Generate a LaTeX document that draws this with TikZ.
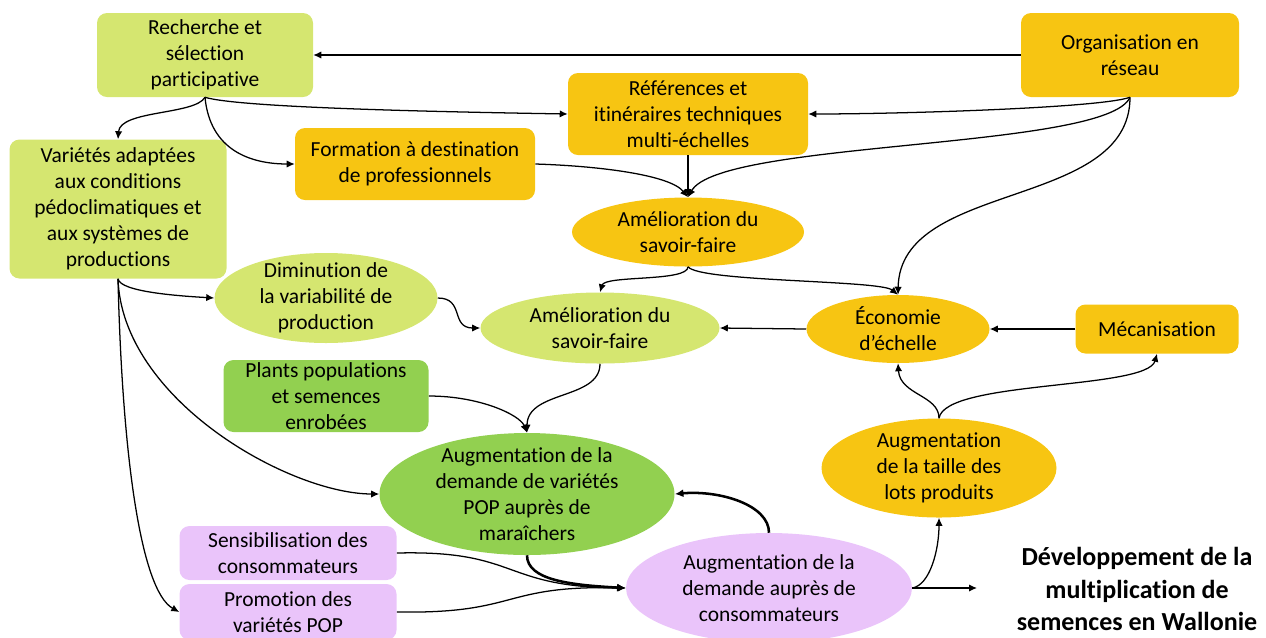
\documentclass[tikz,border=0pt]{standalone}
\usepackage{fontspec}
\setmainfont{Carlito}[Ligatures=NoCommon]
\usepackage{tikz}
\usetikzlibrary{shapes.geometric,arrows.meta}

\definecolor{vertclair}{RGB}{213,230,112}
\definecolor{vertfonce}{RGB}{146,208,80}
\definecolor{jaune}{RGB}{247,197,18}
\definecolor{mauve}{RGB}{234,196,250}
\newcommand{\txt}{\fontsize{16.1}{19.5}\selectfont}

\tikzset{
  boite/.style={rectangle, rounded corners=7.5pt, inner sep=0pt, align=center, font=\txt},
  bulle/.style={ellipse, inner sep=0pt},
  texte/.style={align=center, font=\txt, inner sep=0pt},
  fl/.style={-{Latex[length=6pt,width=5.5pt]}, line width=0.95pt},
  flg/.style={-{Latex[length=6.5pt,width=6pt]}, line width=1.9pt},
}

\begin{document}
\begin{tikzpicture}[x=0.75pt,y=0.75pt,yscale=-1,xscale=1]
        \useasboundingbox (0,0) rectangle (1266,637);

        % Boxes
        \node [boite, fill=vertclair, minimum width=162pt, minimum height=63pt] (rech) at (205,55) {Recherche et\\sélection\\participative};
        \node [boite, fill=jaune, minimum width=163.5pt, minimum height=63pt] (org) at (1130,55) {Organisation en\\réseau};
        \node [boite, fill=jaune, minimum width=180pt, minimum height=61.5pt] (ref) at (688,114) {Références et\\itinéraires techniques\\multi-échelles};
        \node [boite, fill=jaune, minimum width=180pt, minimum height=54pt] (form) at (415,164) {Formation à destination\\de professionnels};
        \node [boite, fill=vertclair, minimum width=162.75pt, minimum height=104.25pt] (var) at (118,209) {Variétés adaptées\\aux conditions\\pédoclimatiques et\\aux systèmes de\\productions};
        \node [boite, fill=jaune, minimum width=122.25pt, minimum height=36.75pt] (meca) at (1157,329) {Mécanisation};
        \node [boite, fill=vertfonce, minimum width=153.75pt, minimum height=54pt] (plants) at (326,396) {Plants populations\\et semences\\enrobées};
        \node [boite, fill=mauve, minimum width=162.75pt, minimum height=40.5pt] (sens) at (288,553) {Sensibilisation des\\consommateurs};
        \node [boite, fill=mauve, minimum width=162.75pt, minimum height=42pt] (promo) at (288,612) {Promotion des\\variétés POP};

        % Ellipses
        \node [bulle, fill=jaune, minimum width=174pt, minimum height=51.75pt] (amo) at (688,232) {};
        \node [texte] (amo-t) at (amo) {Amélioration du\\savoir-faire};
        \node [bulle, fill=vertclair, minimum width=167.25pt, minimum height=67.5pt] (dim) at (326,298) {};
        \node [texte] (dim-t) at (dim) {Diminution de\\la variabilité de\\production};
        \node [bulle, fill=vertclair, minimum width=179.25pt, minimum height=53.25pt] (amv) at (600,328) {};
        \node [texte] (amv-t) at (amv) {Amélioration du\\savoir-faire};
        \node [bulle, fill=jaune, minimum width=137.25pt, minimum height=51pt] (eco) at (898,329) {};
        \node [texte] (eco-t) at (eco) {Économie\\d’échelle};
        \node [bulle, fill=vertfonce, minimum width=221.25pt, minimum height=91.5pt] (augv) at (527,494) {};
        \node [texte] (augv-t) at (augv) {Augmentation de la\\demande de variétés\\POP auprès de\\maraîchers};
        \node [bulle, fill=jaune, minimum width=176.25pt, minimum height=74.25pt] (augt) at (939,468) {};
        \node [texte] (augt-t) at (augt) {Augmentation\\de la taille des\\lots produits};
        \node [bulle, fill=mauve, minimum width=214.5pt, minimum height=82.5pt] (augc) at (769,588) {};
        \node [texte] (augc-t) at (augc) {Augmentation de la\\demande auprès de\\consommateurs};

        % Text Node
        \node [align=center, inner sep=0pt, font=\fontsize{19.5}{24.5}\selectfont\bfseries] (dev) at (1137,589) {Développement de la\\multiplication de\\semences en Wallonie};
        \coordinate (fin) at (977,588);

        %Straight Lines
        \draw [fl] (org.west) -- (rech.east);
        \draw [fl] (ref.south) -- (amo.north);
        \draw [fl] (eco.west) -- (amv.east);
        \draw [fl] (meca.west) -- (eco.east);
        \draw [fl] (augc.east) -- (fin);

        %Curved Lines
        \draw [fl] (org.south) .. controls (1100,108) and (900,114) .. (ref.east);
        \draw [fl] (org.south) .. controls (1107,150) and (720,140) .. (amo.north);
        \draw [fl] (org.south) .. controls (1130,210) and (900,180) .. (eco.north);
        \draw [fl] (rech.south) .. controls (195,115) and (120,110) .. (var.north);
        \draw [fl] (rech.south) .. controls (210,150) and (250,164) .. (form.west);
        \draw [fl] (rech.south) .. controls (240,108) and (450,112) .. (ref.west);
        \draw [fl] (form.east) .. controls (600,166) and (670,175) .. (amo.north);
        \draw [fl] (amo.south) .. controls (688,282) and (605,275) .. (amv.north);
        \draw [fl] (amo.south) .. controls (700,282) and (880,280) .. (eco.north);
        \draw [fl] (var.south) .. controls (120,292) and (180,296) .. (dim.west);
        \draw [fl] (var.south) .. controls (122,400) and (290,494) .. (augv.west);
        \draw [fl] (var.south) .. controls (122,450) and (140,590) .. (promo.west);
        \draw [fl] (dim.east) .. controls (465,298) and (450,328) .. (amv.west);
        \draw [fl] (amv.south) .. controls (600,400) and (527,390) .. (augv.north);
        \draw [fl] (plants.east) .. controls (480,396) and (520,415) .. (augv.north);
        \draw [fl] (augt.north) .. controls (939,395) and (900,395) .. (eco.south);
        \draw [fl] (augt.north) .. controls (945,380) and (1147,390) .. (meca.south);
        \draw [fl] (sens.east) .. controls (520,550) and (500,587) .. (augc.west);
        \draw [fl] (promo.east) .. controls (520,614) and (500,585) .. (augc.west);
        \draw [fl] (augc.east) .. controls (930,585) and (939,550) .. (augt.south);
        \draw [flg] (augc.north) .. controls (769,505) and (720,490) .. (augv.east);
        \draw [flg] (augv.south) .. controls (527,580) and (570,585) .. (augc.west);
\end{tikzpicture}
\end{document}
